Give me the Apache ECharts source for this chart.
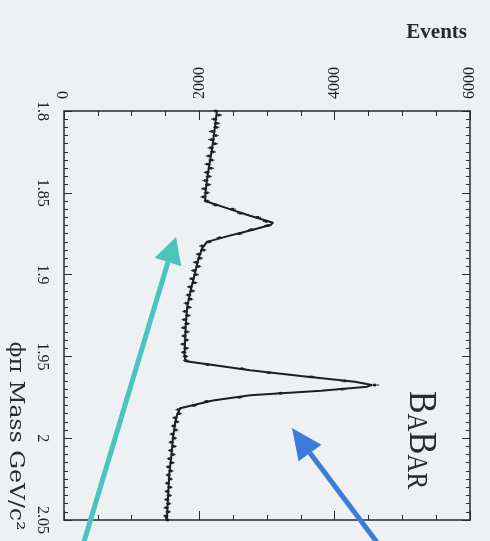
<!DOCTYPE html>
<html><head><meta charset="utf-8">
<script src="https://cdn.jsdelivr.net/npm/echarts@6/dist/echarts.min.js"></script>
<style>html,body{margin:0;padding:0;background:#eef1f3}#c{width:490px;height:541px}</style>
</head><body><div id="c"></div>
<script>
// Tick labels
const massTickLabels = ['1.8','1.85','1.9','1.95','2','2.05'];
const eventTickLabels = ['0','2000','4000','6000'];
// Histogram bins (phi-pi mass, GeV/c^2)
const binStart = 1.8, binWidth = 0.0025;
// Events per bin
const dataEvents = [
 2240,2290,2220,2260,2250,2190,2240,2180,2230,2170,
 2200,2140,2180,2120,2170,2110,2140,2090,2130,2070,
 2110,2060,2110,2240,2490,2610,2860,2990,3010,2770,
 2590,2300,2140,2040,2060,1990,2010,1950,1985,1920,
 1950,1890,1930,1860,1895,1840,1870,1810,1845,1790,
 1830,1780,1820,1770,1815,1775,1810,1760,1805,1770,
 1795,1800,2120,2630,3030,3650,4150,4590,4110,3200,
 2590,2110,1920,1690,1700,1640,1665,1620,1650,1600,
 1630,1585,1625,1575,1610,1560,1595,1545,1580,1540,
 1570,1530,1565,1525,1555,1520,1545,1510,1540,1505,
 1530
];
// Fit curve
const fitMass = [1.800,1.810,1.820,1.830,1.840,1.850,1.855,1.8595,1.864,1.8683,1.8697,1.873,1.8765,1.880,1.884,1.890,1.895,1.900,1.910,1.920,1.930,1.940,1.950,1.953,1.955,1.9585,1.962,1.9655,1.9675,1.9685,1.971,1.9738,1.977,1.9817,1.986,1.990,2.000,2.010,2.020,2.030,2.040,2.050];
const fitEvents = [2260,2230,2200,2160,2120,2090,2085,2417,2749,3090,3050,2749,2420,2114,2040,1990,1960,1930,1870,1820,1800,1790,1780,1800,2150,2750,3500,4300,4550,4480,3800,2750,2200,1714,1670,1645,1610,1589,1560,1545,1532,1520];

const serif = '"Liberation Serif","Times New Roman",serif';
const axisColor = '#2a2a2a';
const chart = echarts.init(document.getElementById('c'));

const pts = dataEvents.map((v, i) => [v, +(binStart + i * binWidth).toFixed(4), Math.sqrt(v)]);
const fit = fitMass.map((m, i) => [fitEvents[i], m]);

function xAx(pos, labels) {
  return {
    type: 'value', position: pos, min: 0, max: 6000, interval: 2000,
    axisLine: { show: true, onZero: false, lineStyle: { color: axisColor, width: 1.5 } },
    axisTick: { show: true, inside: true, length: 9, lineStyle: { color: axisColor } },
    minorTick: { show: true, splitNumber: 4, length: 5, lineStyle: { color: axisColor } },
    splitLine: { show: false },
    axisLabel: labels ? {
      show: true, rotate: -90, margin: 12, color: '#222', fontFamily: serif, fontSize: 16,
      formatter: v => eventTickLabels[Math.round(v / 2000)]
    } : { show: false }
  };
}
function yAx(pos, labels) {
  return {
    type: 'value', position: pos, inverse: true, min: 1.8, max: 2.05, interval: 0.05,
    axisLine: { show: true, onZero: false, lineStyle: { color: axisColor, width: 1.5 } },
    axisTick: { show: true, inside: true, length: 8, lineStyle: { color: axisColor } },
    minorTick: { show: true, splitNumber: 10, length: 4, lineStyle: { color: axisColor } },
    splitLine: { show: false },
    axisLabel: labels ? {
      show: true, rotate: -90, margin: 14, color: '#222', fontFamily: serif, fontSize: 16,
      formatter: v => massTickLabels[Math.round((v - 1.8) / 0.05)]
    } : { show: false }
  };
}

function arrow(x0, y0, bx, by, tx, ty, hw, color) {
  const dx = tx - bx, dy = ty - by, L = Math.hypot(dx, dy);
  const px = -dy / L * hw, py = dx / L * hw;
  return [
    { type: 'line', shape: { x1: x0, y1: y0, x2: bx, y2: by }, style: { stroke: color, lineWidth: 5 }, z: 100 },
    { type: 'polygon', shape: { points: [[tx, ty], [bx + px, by + py], [bx - px, by - py]] }, style: { fill: color }, z: 100 }
  ];
}

chart.setOption({
  backgroundColor: '#eef1f3',
  animation: false,
  grid: { left: 64, right: 20, top: 111, bottom: 21 },
  title: { text: 'Events', right: 18, top: 17, textStyle: { fontFamily: serif, fontSize: 21, fontWeight: 'bold', color: '#2a2a2a' } },
  xAxis: [xAx('top', true), xAx('bottom', false)],
  yAxis: [yAx('left', true), yAx('right', false)],
  series: [
    {
      type: 'custom', xAxisIndex: 0, yAxisIndex: 0, encode: { x: 0, y: 1 },
      data: pts,
      renderItem: function (params, api) {
        const v = api.value(0), m = api.value(1), e = api.value(2);
        const a = api.coord([v - e, m]), b = api.coord([v + e, m]), c = api.coord([v, m]);
        return { type: 'group', children: [
          { type: 'line', shape: { x1: a[0], y1: a[1], x2: b[0], y2: b[1] }, style: { stroke: '#444', lineWidth: 1.2 } },
          { type: 'rect', shape: { x: c[0] - 1.5, y: c[1] - 1.3, width: 3, height: 2.6 }, style: { fill: '#222' } }
        ]};
      },
      z: 2
    },
    {
      type: 'line', xAxisIndex: 0, yAxisIndex: 0, data: fit, showSymbol: false, smooth: false,
      lineStyle: { color: '#1e1e1e', width: 2 }, z: 3
    }
  ],
  graphic: [
    { type: 'text', x: 15, y: 436, rotation: -Math.PI / 2, scaleX: 1.12,
      style: { text: 'ϕπ Mass GeV/c²', font: '21px "DejaVu Serif", serif', fill: '#2a2a2a', align: 'center', verticalAlign: 'middle' } },
    { type: 'text', x: 421, y: 440, rotation: -Math.PI / 2, scaleY: 1.2,
      style: { text: '{a|B}{b|A}{a|B}{b|AR}', align: 'center', verticalAlign: 'middle', fill: '#2a2a2a',
        rich: { a: { fontSize: 34, fontFamily: serif, verticalAlign: 'bottom', fill: '#2a2a2a' }, b: { fontSize: 25, fontFamily: serif, verticalAlign: 'bottom', fill: '#2a2a2a' } } } },
    ...arrow(83, 545, 168, 262, 176, 237, 14, '#4cc3bc'),
    ...arrow(379, 545, 310, 453, 292, 428, 14, '#3b7bd9')
  ]
});
</script>
</body></html>
